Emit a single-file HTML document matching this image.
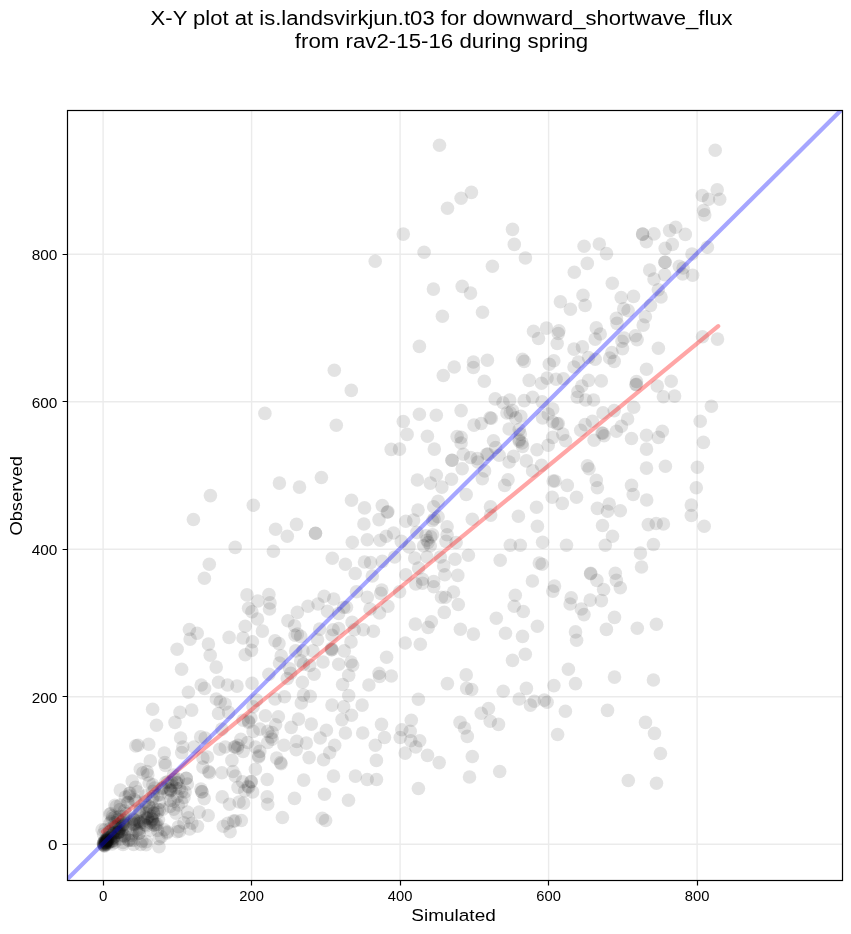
<!DOCTYPE html><html><head><meta charset="utf-8"><style>html,body{margin:0;padding:0;background:#fff;width:851px;height:934px;overflow:hidden}svg{display:block;will-change:transform}text{font-family:"Liberation Sans",sans-serif;fill:#000}</style></head><body><svg width="851" height="934" viewBox="0 0 851 934"><text x="150.6" y="24.9" font-size="19.5" textLength="582" lengthAdjust="spacingAndGlyphs">X-Y plot at is.landsvirkjun.t03 for downward_shortwave_flux</text><text x="294.8" y="47.8" font-size="19.5" textLength="293.4" lengthAdjust="spacingAndGlyphs">from rav2-15-16 during spring</text><defs><clipPath id="c"><rect x="67.50" y="110.50" width="775.00" height="770.00"/></clipPath></defs><path d="M103.10 110.50V880.50M67.50 844.30H842.50M251.60 110.50V880.50M67.50 696.80H842.50M400.10 110.50V880.50M67.50 549.30H842.50M548.60 110.50V880.50M67.50 401.80H842.50M697.10 110.50V880.50M67.50 254.30H842.50" stroke="#b0b0b0" stroke-opacity="0.26" stroke-width="1.4" fill="none"/><g clip-path="url(#c)" fill="#000" fill-opacity="0.11"><circle cx="439.5" cy="145.3" r="6.8"/><circle cx="447.5" cy="208.2" r="6.8"/><circle cx="403.3" cy="234.1" r="6.8"/><circle cx="424.1" cy="252.2" r="6.8"/><circle cx="375.2" cy="261.2" r="6.8"/><circle cx="433.4" cy="289.1" r="6.8"/><circle cx="471.4" cy="192.4" r="6.8"/><circle cx="461.1" cy="198.2" r="6.8"/><circle cx="512.5" cy="229.4" r="6.8"/><circle cx="514.3" cy="244.4" r="6.8"/><circle cx="525.4" cy="258.0" r="6.8"/><circle cx="492.4" cy="266.3" r="6.8"/><circle cx="462.2" cy="286.4" r="6.8"/><circle cx="470.5" cy="293.1" r="6.8"/><circle cx="584.1" cy="246.2" r="6.8"/><circle cx="599.3" cy="244.0" r="6.8"/><circle cx="606.5" cy="253.6" r="6.8"/><circle cx="587.3" cy="263.4" r="6.8"/><circle cx="574.3" cy="272.3" r="6.8"/><circle cx="612.3" cy="283.3" r="6.8"/><circle cx="583.0" cy="295.3" r="6.8"/><circle cx="621.2" cy="297.5" r="6.8"/><circle cx="633.5" cy="296.4" r="6.8"/><circle cx="642.6" cy="234.1" r="6.8"/><circle cx="646.4" cy="241.7" r="6.8"/><circle cx="715.2" cy="150.2" r="6.8"/><circle cx="717.2" cy="189.7" r="6.8"/><circle cx="702.2" cy="195.5" r="6.8"/><circle cx="708.5" cy="199.3" r="6.8"/><circle cx="719.7" cy="199.3" r="6.8"/><circle cx="703.6" cy="210.5" r="6.8"/><circle cx="704.7" cy="214.9" r="6.8"/><circle cx="675.7" cy="227.2" r="6.8"/><circle cx="669.6" cy="230.6" r="6.8"/><circle cx="685.3" cy="234.4" r="6.8"/><circle cx="654.0" cy="233.9" r="6.8"/><circle cx="672.3" cy="244.4" r="6.8"/><circle cx="665.2" cy="248.4" r="6.8"/><circle cx="707.4" cy="247.3" r="6.8"/><circle cx="692.0" cy="254.0" r="6.8"/><circle cx="665.0" cy="262.3" r="6.8"/><circle cx="679.3" cy="266.3" r="6.8"/><circle cx="683.1" cy="268.0" r="6.8"/><circle cx="682.7" cy="274.0" r="6.8"/><circle cx="692.6" cy="275.3" r="6.8"/><circle cx="664.7" cy="274.8" r="6.8"/><circle cx="649.7" cy="270.1" r="6.8"/><circle cx="654.0" cy="279.1" r="6.8"/><circle cx="658.3" cy="289.8" r="6.8"/><circle cx="661.0" cy="297.0" r="6.8"/><circle cx="264.9" cy="413.4" r="6.8"/><circle cx="442.4" cy="316.3" r="6.8"/><circle cx="419.4" cy="346.4" r="6.8"/><circle cx="334.3" cy="370.3" r="6.8"/><circle cx="351.3" cy="390.4" r="6.8"/><circle cx="443.3" cy="375.5" r="6.8"/><circle cx="454.2" cy="367.0" r="6.8"/><circle cx="336.3" cy="425.3" r="6.8"/><circle cx="419.4" cy="414.3" r="6.8"/><circle cx="436.3" cy="415.2" r="6.8"/><circle cx="403.3" cy="421.5" r="6.8"/><circle cx="407.1" cy="434.4" r="6.8"/><circle cx="427.4" cy="436.2" r="6.8"/><circle cx="391.2" cy="449.4" r="6.8"/><circle cx="399.5" cy="449.1" r="6.8"/><circle cx="434.3" cy="449.1" r="6.8"/><circle cx="452.0" cy="460.3" r="6.8"/><circle cx="321.4" cy="477.5" r="6.8"/><circle cx="279.4" cy="483.1" r="6.8"/><circle cx="299.5" cy="487.1" r="6.8"/><circle cx="417.4" cy="480.0" r="6.8"/><circle cx="436.3" cy="475.3" r="6.8"/><circle cx="430.3" cy="483.1" r="6.8"/><circle cx="441.9" cy="487.1" r="6.8"/><circle cx="451.5" cy="479.3" r="6.8"/><circle cx="482.5" cy="312.3" r="6.8"/><circle cx="533.5" cy="331.3" r="6.8"/><circle cx="546.5" cy="328.1" r="6.8"/><circle cx="538.5" cy="338.5" r="6.8"/><circle cx="473.4" cy="362.0" r="6.8"/><circle cx="473.4" cy="367.5" r="6.8"/><circle cx="487.4" cy="360.3" r="6.8"/><circle cx="522.5" cy="359.2" r="6.8"/><circle cx="524.2" cy="361.4" r="6.8"/><circle cx="549.3" cy="364.2" r="6.8"/><circle cx="484.3" cy="381.3" r="6.8"/><circle cx="529.2" cy="380.4" r="6.8"/><circle cx="541.5" cy="383.2" r="6.8"/><circle cx="547.1" cy="378.1" r="6.8"/><circle cx="560.4" cy="301.7" r="6.8"/><circle cx="570.4" cy="309.2" r="6.8"/><circle cx="585.1" cy="305.4" r="6.8"/><circle cx="623.7" cy="308.9" r="6.8"/><circle cx="628.1" cy="310.6" r="6.8"/><circle cx="616.4" cy="318.4" r="6.8"/><circle cx="617.0" cy="323.4" r="6.8"/><circle cx="645.4" cy="316.7" r="6.8"/><circle cx="643.2" cy="325.1" r="6.8"/><circle cx="558.9" cy="330.7" r="6.8"/><circle cx="558.3" cy="333.5" r="6.8"/><circle cx="596.3" cy="327.9" r="6.8"/><circle cx="600.2" cy="334.0" r="6.8"/><circle cx="595.2" cy="339.1" r="6.8"/><circle cx="557.2" cy="343.5" r="6.8"/><circle cx="574.0" cy="349.1" r="6.8"/><circle cx="582.4" cy="346.9" r="6.8"/><circle cx="624.2" cy="338.0" r="6.8"/><circle cx="622.0" cy="341.3" r="6.8"/><circle cx="635.4" cy="335.7" r="6.8"/><circle cx="637.1" cy="339.6" r="6.8"/><circle cx="622.5" cy="348.6" r="6.8"/><circle cx="611.9" cy="352.5" r="6.8"/><circle cx="609.7" cy="358.0" r="6.8"/><circle cx="614.2" cy="361.4" r="6.8"/><circle cx="595.2" cy="359.2" r="6.8"/><circle cx="588.5" cy="357.5" r="6.8"/><circle cx="578.4" cy="362.0" r="6.8"/><circle cx="574.0" cy="367.0" r="6.8"/><circle cx="563.4" cy="378.7" r="6.8"/><circle cx="556.1" cy="379.3" r="6.8"/><circle cx="588.5" cy="380.4" r="6.8"/><circle cx="601.3" cy="380.9" r="6.8"/><circle cx="581.8" cy="386.0" r="6.8"/><circle cx="577.9" cy="391.5" r="6.8"/><circle cx="646.5" cy="369.2" r="6.8"/><circle cx="636.5" cy="381.5" r="6.8"/><circle cx="635.9" cy="384.8" r="6.8"/><circle cx="553.8" cy="360.8" r="6.8"/><circle cx="495.2" cy="398.9" r="6.8"/><circle cx="503.0" cy="402.8" r="6.8"/><circle cx="509.7" cy="400.0" r="6.8"/><circle cx="524.2" cy="400.6" r="6.8"/><circle cx="532.6" cy="397.2" r="6.8"/><circle cx="542.1" cy="401.7" r="6.8"/><circle cx="461.1" cy="410.6" r="6.8"/><circle cx="506.9" cy="412.9" r="6.8"/><circle cx="512.5" cy="410.6" r="6.8"/><circle cx="515.8" cy="417.9" r="6.8"/><circle cx="520.8" cy="416.2" r="6.8"/><circle cx="490.1" cy="417.9" r="6.8"/><circle cx="481.2" cy="423.5" r="6.8"/><circle cx="474.0" cy="425.1" r="6.8"/><circle cx="509.1" cy="429.0" r="6.8"/><circle cx="519.2" cy="429.6" r="6.8"/><circle cx="520.3" cy="434.1" r="6.8"/><circle cx="542.6" cy="417.9" r="6.8"/><circle cx="548.2" cy="414.0" r="6.8"/><circle cx="552.7" cy="409.0" r="6.8"/><circle cx="552.7" cy="421.8" r="6.8"/><circle cx="552.7" cy="437.4" r="6.8"/><circle cx="493.5" cy="440.8" r="6.8"/><circle cx="495.7" cy="447.5" r="6.8"/><circle cx="461.1" cy="437.4" r="6.8"/><circle cx="461.1" cy="443.0" r="6.8"/><circle cx="519.2" cy="439.7" r="6.8"/><circle cx="522.0" cy="443.0" r="6.8"/><circle cx="522.5" cy="446.4" r="6.8"/><circle cx="537.0" cy="449.7" r="6.8"/><circle cx="548.2" cy="445.2" r="6.8"/><circle cx="463.3" cy="454.2" r="6.8"/><circle cx="470.6" cy="457.5" r="6.8"/><circle cx="477.3" cy="458.6" r="6.8"/><circle cx="477.9" cy="462.0" r="6.8"/><circle cx="486.8" cy="454.2" r="6.8"/><circle cx="499.1" cy="455.3" r="6.8"/><circle cx="509.1" cy="462.0" r="6.8"/><circle cx="513.6" cy="456.4" r="6.8"/><circle cx="526.4" cy="460.9" r="6.8"/><circle cx="462.2" cy="468.7" r="6.8"/><circle cx="484.6" cy="470.9" r="6.8"/><circle cx="482.3" cy="478.7" r="6.8"/><circle cx="532.6" cy="470.9" r="6.8"/><circle cx="541.5" cy="465.3" r="6.8"/><circle cx="508.0" cy="479.8" r="6.8"/><circle cx="504.7" cy="485.4" r="6.8"/><circle cx="553.2" cy="481.0" r="6.8"/><circle cx="577.3" cy="397.2" r="6.8"/><circle cx="585.7" cy="400.0" r="6.8"/><circle cx="593.5" cy="400.0" r="6.8"/><circle cx="558.3" cy="423.5" r="6.8"/><circle cx="562.8" cy="434.1" r="6.8"/><circle cx="565.6" cy="440.8" r="6.8"/><circle cx="603.0" cy="412.9" r="6.8"/><circle cx="614.2" cy="410.6" r="6.8"/><circle cx="633.7" cy="407.3" r="6.8"/><circle cx="627.6" cy="419.0" r="6.8"/><circle cx="621.4" cy="426.3" r="6.8"/><circle cx="616.4" cy="431.3" r="6.8"/><circle cx="585.1" cy="424.6" r="6.8"/><circle cx="592.4" cy="421.2" r="6.8"/><circle cx="580.7" cy="430.2" r="6.8"/><circle cx="601.9" cy="433.0" r="6.8"/><circle cx="604.1" cy="435.7" r="6.8"/><circle cx="594.1" cy="440.2" r="6.8"/><circle cx="631.5" cy="438.5" r="6.8"/><circle cx="646.5" cy="435.2" r="6.8"/><circle cx="646.5" cy="449.1" r="6.8"/><circle cx="587.4" cy="465.9" r="6.8"/><circle cx="589.0" cy="468.7" r="6.8"/><circle cx="596.3" cy="480.4" r="6.8"/><circle cx="597.4" cy="487.7" r="6.8"/><circle cx="555.0" cy="481.0" r="6.8"/><circle cx="567.3" cy="485.4" r="6.8"/><circle cx="646.5" cy="468.1" r="6.8"/><circle cx="631.5" cy="485.4" r="6.8"/><circle cx="650.5" cy="305.5" r="6.8"/><circle cx="658.4" cy="348.2" r="6.8"/><circle cx="702.5" cy="336.8" r="6.8"/><circle cx="717.5" cy="339.1" r="6.8"/><circle cx="671.2" cy="381.3" r="6.8"/><circle cx="657.3" cy="386.0" r="6.8"/><circle cx="663.4" cy="396.7" r="6.8"/><circle cx="674.6" cy="396.1" r="6.8"/><circle cx="711.4" cy="406.2" r="6.8"/><circle cx="700.2" cy="421.2" r="6.8"/><circle cx="662.3" cy="431.3" r="6.8"/><circle cx="658.4" cy="437.4" r="6.8"/><circle cx="703.4" cy="442.4" r="6.8"/><circle cx="665.4" cy="466.2" r="6.8"/><circle cx="697.4" cy="467.3" r="6.8"/><circle cx="210.4" cy="495.6" r="6.8"/><circle cx="253.3" cy="505.2" r="6.8"/><circle cx="193.4" cy="519.5" r="6.8"/><circle cx="235.2" cy="547.4" r="6.8"/><circle cx="209.3" cy="564.3" r="6.8"/><circle cx="204.4" cy="578.2" r="6.8"/><circle cx="247.0" cy="594.9" r="6.8"/><circle cx="257.9" cy="601.0" r="6.8"/><circle cx="248.6" cy="608.3" r="6.8"/><circle cx="251.9" cy="611.7" r="6.8"/><circle cx="257.5" cy="619.0" r="6.8"/><circle cx="245.2" cy="626.2" r="6.8"/><circle cx="262.4" cy="631.1" r="6.8"/><circle cx="189.4" cy="629.5" r="6.8"/><circle cx="197.2" cy="633.3" r="6.8"/><circle cx="190.1" cy="639.1" r="6.8"/><circle cx="208.4" cy="644.1" r="6.8"/><circle cx="177.1" cy="649.2" r="6.8"/><circle cx="210.2" cy="655.2" r="6.8"/><circle cx="229.1" cy="637.4" r="6.8"/><circle cx="243.0" cy="638.0" r="6.8"/><circle cx="252.4" cy="641.8" r="6.8"/><circle cx="251.5" cy="650.3" r="6.8"/><circle cx="245.2" cy="654.8" r="6.8"/><circle cx="181.6" cy="669.3" r="6.8"/><circle cx="216.2" cy="667.1" r="6.8"/><circle cx="351.5" cy="500.3" r="6.8"/><circle cx="275.6" cy="529.3" r="6.8"/><circle cx="296.5" cy="524.4" r="6.8"/><circle cx="287.3" cy="536.3" r="6.8"/><circle cx="315.5" cy="533.3" r="6.8"/><circle cx="315.5" cy="533.3" r="6.8"/><circle cx="273.4" cy="551.2" r="6.8"/><circle cx="352.3" cy="542.2" r="6.8"/><circle cx="332.3" cy="558.3" r="6.8"/><circle cx="345.4" cy="564.2" r="6.8"/><circle cx="355.2" cy="573.5" r="6.8"/><circle cx="364.5" cy="507.9" r="6.8"/><circle cx="363.9" cy="524.0" r="6.8"/><circle cx="382.3" cy="505.6" r="6.8"/><circle cx="387.9" cy="511.8" r="6.8"/><circle cx="379.0" cy="519.6" r="6.8"/><circle cx="367.3" cy="539.7" r="6.8"/><circle cx="380.1" cy="540.2" r="6.8"/><circle cx="386.2" cy="536.3" r="6.8"/><circle cx="393.5" cy="533.0" r="6.8"/><circle cx="401.3" cy="541.4" r="6.8"/><circle cx="409.1" cy="546.9" r="6.8"/><circle cx="418.0" cy="510.1" r="6.8"/><circle cx="405.8" cy="521.3" r="6.8"/><circle cx="413.6" cy="520.1" r="6.8"/><circle cx="438.1" cy="501.2" r="6.8"/><circle cx="433.7" cy="506.7" r="6.8"/><circle cx="438.1" cy="516.8" r="6.8"/><circle cx="432.6" cy="520.7" r="6.8"/><circle cx="447.1" cy="526.8" r="6.8"/><circle cx="416.9" cy="532.4" r="6.8"/><circle cx="425.9" cy="535.8" r="6.8"/><circle cx="432.6" cy="534.7" r="6.8"/><circle cx="428.1" cy="542.5" r="6.8"/><circle cx="423.6" cy="545.8" r="6.8"/><circle cx="447.1" cy="534.7" r="6.8"/><circle cx="446.0" cy="541.4" r="6.8"/><circle cx="364.5" cy="562.0" r="6.8"/><circle cx="370.6" cy="562.6" r="6.8"/><circle cx="382.3" cy="561.4" r="6.8"/><circle cx="394.6" cy="557.0" r="6.8"/><circle cx="414.7" cy="558.1" r="6.8"/><circle cx="427.0" cy="557.0" r="6.8"/><circle cx="440.4" cy="557.0" r="6.8"/><circle cx="418.6" cy="568.1" r="6.8"/><circle cx="443.7" cy="565.9" r="6.8"/><circle cx="444.8" cy="574.8" r="6.8"/><circle cx="405.8" cy="574.8" r="6.8"/><circle cx="422.5" cy="579.3" r="6.8"/><circle cx="433.7" cy="581.5" r="6.8"/><circle cx="372.3" cy="576.0" r="6.8"/><circle cx="427.0" cy="540.2" r="6.8"/><circle cx="430.3" cy="545.8" r="6.8"/><circle cx="466.2" cy="494.5" r="6.8"/><circle cx="490.5" cy="506.7" r="6.8"/><circle cx="490.7" cy="515.1" r="6.8"/><circle cx="472.3" cy="519.2" r="6.8"/><circle cx="518.4" cy="516.2" r="6.8"/><circle cx="536.5" cy="507.3" r="6.8"/><circle cx="537.4" cy="526.3" r="6.8"/><circle cx="456.1" cy="542.5" r="6.8"/><circle cx="510.3" cy="545.3" r="6.8"/><circle cx="520.3" cy="545.3" r="6.8"/><circle cx="542.6" cy="542.2" r="6.8"/><circle cx="468.4" cy="555.3" r="6.8"/><circle cx="455.0" cy="559.2" r="6.8"/><circle cx="500.2" cy="560.3" r="6.8"/><circle cx="539.3" cy="563.1" r="6.8"/><circle cx="542.1" cy="564.2" r="6.8"/><circle cx="457.8" cy="575.4" r="6.8"/><circle cx="532.4" cy="581.0" r="6.8"/><circle cx="552.2" cy="497.3" r="6.8"/><circle cx="562.3" cy="503.4" r="6.8"/><circle cx="576.5" cy="497.3" r="6.8"/><circle cx="633.2" cy="494.5" r="6.8"/><circle cx="597.4" cy="508.4" r="6.8"/><circle cx="609.2" cy="504.0" r="6.8"/><circle cx="607.5" cy="511.2" r="6.8"/><circle cx="620.3" cy="510.7" r="6.8"/><circle cx="602.5" cy="525.5" r="6.8"/><circle cx="612.5" cy="536.3" r="6.8"/><circle cx="566.5" cy="545.3" r="6.8"/><circle cx="605.3" cy="545.3" r="6.8"/><circle cx="640.4" cy="553.1" r="6.8"/><circle cx="641.5" cy="567.0" r="6.8"/><circle cx="590.7" cy="573.2" r="6.8"/><circle cx="596.9" cy="580.4" r="6.8"/><circle cx="615.3" cy="573.2" r="6.8"/><circle cx="616.4" cy="580.4" r="6.8"/><circle cx="696.3" cy="487.7" r="6.8"/><circle cx="646.7" cy="500.0" r="6.8"/><circle cx="648.3" cy="524.6" r="6.8"/><circle cx="656.2" cy="523.5" r="6.8"/><circle cx="663.4" cy="524.0" r="6.8"/><circle cx="653.4" cy="544.5" r="6.8"/><circle cx="691.3" cy="505.1" r="6.8"/><circle cx="691.3" cy="515.5" r="6.8"/><circle cx="704.2" cy="526.3" r="6.8"/><circle cx="268.9" cy="594.5" r="6.8"/><circle cx="270.0" cy="602.9" r="6.8"/><circle cx="269.5" cy="609.0" r="6.8"/><circle cx="297.4" cy="612.4" r="6.8"/><circle cx="308.0" cy="606.2" r="6.8"/><circle cx="318.0" cy="604.0" r="6.8"/><circle cx="324.2" cy="596.2" r="6.8"/><circle cx="333.7" cy="599.0" r="6.8"/><circle cx="327.5" cy="611.2" r="6.8"/><circle cx="338.7" cy="613.5" r="6.8"/><circle cx="346.5" cy="607.3" r="6.8"/><circle cx="356.5" cy="591.7" r="6.8"/><circle cx="287.9" cy="620.7" r="6.8"/><circle cx="294.6" cy="625.7" r="6.8"/><circle cx="295.1" cy="635.2" r="6.8"/><circle cx="300.7" cy="636.4" r="6.8"/><circle cx="275.0" cy="640.8" r="6.8"/><circle cx="279.0" cy="643.6" r="6.8"/><circle cx="319.7" cy="629.1" r="6.8"/><circle cx="317.5" cy="639.7" r="6.8"/><circle cx="333.1" cy="629.7" r="6.8"/><circle cx="338.7" cy="628.5" r="6.8"/><circle cx="332.0" cy="635.2" r="6.8"/><circle cx="352.1" cy="622.4" r="6.8"/><circle cx="354.3" cy="629.7" r="6.8"/><circle cx="351.0" cy="641.9" r="6.8"/><circle cx="281.2" cy="655.9" r="6.8"/><circle cx="279.5" cy="663.1" r="6.8"/><circle cx="295.7" cy="650.9" r="6.8"/><circle cx="303.0" cy="650.9" r="6.8"/><circle cx="313.0" cy="650.9" r="6.8"/><circle cx="331.4" cy="649.7" r="6.8"/><circle cx="344.3" cy="650.9" r="6.8"/><circle cx="300.7" cy="660.9" r="6.8"/><circle cx="323.0" cy="662.0" r="6.8"/><circle cx="338.7" cy="664.3" r="6.8"/><circle cx="351.0" cy="662.0" r="6.8"/><circle cx="268.9" cy="674.3" r="6.8"/><circle cx="289.6" cy="668.7" r="6.8"/><circle cx="314.1" cy="674.3" r="6.8"/><circle cx="348.7" cy="675.4" r="6.8"/><circle cx="297.4" cy="634.1" r="6.8"/><circle cx="332.0" cy="649.7" r="6.8"/><circle cx="309.7" cy="665.4" r="6.8"/><circle cx="290.7" cy="673.2" r="6.8"/><circle cx="415.8" cy="583.9" r="6.8"/><circle cx="422.5" cy="583.3" r="6.8"/><circle cx="433.7" cy="586.7" r="6.8"/><circle cx="381.8" cy="590.0" r="6.8"/><circle cx="380.7" cy="593.4" r="6.8"/><circle cx="399.6" cy="591.7" r="6.8"/><circle cx="367.3" cy="597.3" r="6.8"/><circle cx="370.0" cy="609.0" r="6.8"/><circle cx="379.5" cy="612.9" r="6.8"/><circle cx="387.9" cy="606.2" r="6.8"/><circle cx="441.5" cy="597.3" r="6.8"/><circle cx="445.4" cy="597.3" r="6.8"/><circle cx="444.3" cy="612.4" r="6.8"/><circle cx="415.3" cy="624.1" r="6.8"/><circle cx="431.4" cy="621.8" r="6.8"/><circle cx="428.1" cy="627.4" r="6.8"/><circle cx="363.3" cy="629.7" r="6.8"/><circle cx="373.4" cy="631.3" r="6.8"/><circle cx="405.2" cy="643.0" r="6.8"/><circle cx="420.3" cy="644.2" r="6.8"/><circle cx="386.6" cy="657.3" r="6.8"/><circle cx="379.0" cy="673.2" r="6.8"/><circle cx="379.5" cy="676.5" r="6.8"/><circle cx="391.3" cy="676.0" r="6.8"/><circle cx="453.5" cy="592.0" r="6.8"/><circle cx="458.3" cy="604.5" r="6.8"/><circle cx="515.3" cy="595.3" r="6.8"/><circle cx="514.2" cy="606.2" r="6.8"/><circle cx="523.3" cy="611.5" r="6.8"/><circle cx="496.3" cy="618.3" r="6.8"/><circle cx="460.4" cy="629.3" r="6.8"/><circle cx="473.4" cy="634.1" r="6.8"/><circle cx="505.5" cy="633.2" r="6.8"/><circle cx="522.5" cy="636.4" r="6.8"/><circle cx="537.4" cy="626.3" r="6.8"/><circle cx="525.3" cy="654.2" r="6.8"/><circle cx="512.5" cy="660.4" r="6.8"/><circle cx="466.2" cy="674.9" r="6.8"/><circle cx="554.5" cy="586.1" r="6.8"/><circle cx="552.8" cy="591.1" r="6.8"/><circle cx="603.6" cy="589.5" r="6.8"/><circle cx="620.3" cy="587.8" r="6.8"/><circle cx="571.2" cy="597.8" r="6.8"/><circle cx="570.1" cy="604.0" r="6.8"/><circle cx="581.3" cy="609.0" r="6.8"/><circle cx="584.0" cy="614.6" r="6.8"/><circle cx="590.2" cy="600.1" r="6.8"/><circle cx="601.4" cy="600.6" r="6.8"/><circle cx="614.5" cy="617.4" r="6.8"/><circle cx="606.4" cy="629.4" r="6.8"/><circle cx="637.3" cy="628.3" r="6.8"/><circle cx="575.5" cy="631.9" r="6.8"/><circle cx="576.6" cy="640.3" r="6.8"/><circle cx="568.4" cy="669.3" r="6.8"/><circle cx="614.5" cy="677.1" r="6.8"/><circle cx="656.4" cy="624.3" r="6.8"/><circle cx="466.7" cy="688.4" r="6.8"/><circle cx="471.7" cy="689.5" r="6.8"/><circle cx="503.2" cy="691.2" r="6.8"/><circle cx="526.4" cy="688.4" r="6.8"/><circle cx="519.2" cy="699.0" r="6.8"/><circle cx="534.3" cy="701.2" r="6.8"/><circle cx="530.4" cy="705.1" r="6.8"/><circle cx="544.3" cy="700.1" r="6.8"/><circle cx="547.1" cy="702.3" r="6.8"/><circle cx="488.5" cy="708.5" r="6.8"/><circle cx="481.2" cy="713.3" r="6.8"/><circle cx="490.2" cy="721.3" r="6.8"/><circle cx="498.5" cy="724.4" r="6.8"/><circle cx="460.0" cy="722.4" r="6.8"/><circle cx="464.5" cy="728.0" r="6.8"/><circle cx="467.3" cy="736.4" r="6.8"/><circle cx="472.3" cy="756.5" r="6.8"/><circle cx="499.7" cy="771.5" r="6.8"/><circle cx="553.9" cy="685.6" r="6.8"/><circle cx="575.5" cy="683.6" r="6.8"/><circle cx="565.4" cy="711.3" r="6.8"/><circle cx="607.5" cy="710.4" r="6.8"/><circle cx="557.6" cy="734.5" r="6.8"/><circle cx="653.4" cy="680.0" r="6.8"/><circle cx="645.5" cy="722.4" r="6.8"/><circle cx="654.5" cy="733.4" r="6.8"/><circle cx="660.4" cy="753.5" r="6.8"/><circle cx="469.5" cy="777.0" r="6.8"/><circle cx="628.3" cy="780.5" r="6.8"/><circle cx="368.9" cy="685.0" r="6.8"/><circle cx="447.4" cy="683.6" r="6.8"/><circle cx="418.4" cy="699.2" r="6.8"/><circle cx="381.5" cy="724.4" r="6.8"/><circle cx="384.5" cy="737.5" r="6.8"/><circle cx="375.3" cy="745.3" r="6.8"/><circle cx="376.4" cy="760.4" r="6.8"/><circle cx="411.3" cy="720.2" r="6.8"/><circle cx="401.8" cy="729.7" r="6.8"/><circle cx="410.2" cy="731.4" r="6.8"/><circle cx="400.2" cy="737.5" r="6.8"/><circle cx="410.8" cy="740.8" r="6.8"/><circle cx="419.7" cy="740.8" r="6.8"/><circle cx="415.8" cy="747.0" r="6.8"/><circle cx="405.2" cy="753.1" r="6.8"/><circle cx="427.5" cy="755.4" r="6.8"/><circle cx="439.2" cy="762.6" r="6.8"/><circle cx="367.2" cy="779.5" r="6.8"/><circle cx="376.5" cy="779.5" r="6.8"/><circle cx="418.4" cy="788.5" r="6.8"/><circle cx="287.3" cy="678.5" r="6.8"/><circle cx="302.4" cy="682.2" r="6.8"/><circle cx="342.6" cy="684.5" r="6.8"/><circle cx="284.5" cy="696.7" r="6.8"/><circle cx="275.0" cy="699.0" r="6.8"/><circle cx="303.5" cy="695.1" r="6.8"/><circle cx="310.2" cy="696.2" r="6.8"/><circle cx="301.3" cy="702.9" r="6.8"/><circle cx="332.0" cy="705.1" r="6.8"/><circle cx="343.7" cy="706.8" r="6.8"/><circle cx="348.7" cy="695.6" r="6.8"/><circle cx="351.5" cy="715.2" r="6.8"/><circle cx="342.0" cy="719.6" r="6.8"/><circle cx="362.1" cy="705.1" r="6.8"/><circle cx="278.4" cy="716.8" r="6.8"/><circle cx="275.6" cy="724.7" r="6.8"/><circle cx="272.2" cy="732.5" r="6.8"/><circle cx="272.2" cy="739.2" r="6.8"/><circle cx="298.5" cy="719.1" r="6.8"/><circle cx="291.2" cy="727.4" r="6.8"/><circle cx="311.3" cy="724.1" r="6.8"/><circle cx="326.4" cy="730.2" r="6.8"/><circle cx="320.2" cy="738.0" r="6.8"/><circle cx="345.4" cy="733.0" r="6.8"/><circle cx="362.7" cy="733.0" r="6.8"/><circle cx="284.0" cy="745.3" r="6.8"/><circle cx="296.8" cy="741.4" r="6.8"/><circle cx="296.2" cy="749.8" r="6.8"/><circle cx="306.3" cy="743.1" r="6.8"/><circle cx="334.7" cy="745.3" r="6.8"/><circle cx="329.7" cy="752.6" r="6.8"/><circle cx="323.6" cy="759.8" r="6.8"/><circle cx="309.1" cy="757.6" r="6.8"/><circle cx="276.7" cy="758.1" r="6.8"/><circle cx="280.6" cy="762.6" r="6.8"/><circle cx="333.5" cy="776.1" r="6.8"/><circle cx="355.4" cy="776.1" r="6.8"/><circle cx="303.7" cy="780.1" r="6.8"/><circle cx="294.5" cy="798.4" r="6.8"/><circle cx="324.5" cy="794.3" r="6.8"/><circle cx="348.5" cy="800.3" r="6.8"/><circle cx="282.4" cy="817.5" r="6.8"/><circle cx="322.3" cy="818.3" r="6.8"/><circle cx="325.6" cy="820.5" r="6.8"/><circle cx="188.4" cy="692.3" r="6.8"/><circle cx="201.2" cy="685.0" r="6.8"/><circle cx="204.6" cy="688.4" r="6.8"/><circle cx="218.5" cy="682.2" r="6.8"/><circle cx="227.5" cy="685.0" r="6.8"/><circle cx="237.0" cy="686.1" r="6.8"/><circle cx="252.0" cy="683.3" r="6.8"/><circle cx="216.3" cy="699.0" r="6.8"/><circle cx="220.2" cy="701.8" r="6.8"/><circle cx="225.2" cy="704.0" r="6.8"/><circle cx="218.5" cy="713.5" r="6.8"/><circle cx="228.6" cy="712.4" r="6.8"/><circle cx="191.7" cy="710.1" r="6.8"/><circle cx="180.0" cy="712.4" r="6.8"/><circle cx="175.0" cy="722.4" r="6.8"/><circle cx="256.5" cy="700.1" r="6.8"/><circle cx="253.1" cy="706.8" r="6.8"/><circle cx="265.4" cy="715.7" r="6.8"/><circle cx="250.9" cy="718.0" r="6.8"/><circle cx="248.7" cy="722.4" r="6.8"/><circle cx="243.1" cy="720.2" r="6.8"/><circle cx="253.1" cy="731.4" r="6.8"/><circle cx="259.8" cy="729.1" r="6.8"/><circle cx="267.7" cy="731.4" r="6.8"/><circle cx="221.9" cy="729.1" r="6.8"/><circle cx="180.6" cy="738.0" r="6.8"/><circle cx="200.7" cy="736.9" r="6.8"/><circle cx="205.1" cy="738.0" r="6.8"/><circle cx="240.9" cy="739.2" r="6.8"/><circle cx="182.8" cy="747.0" r="6.8"/><circle cx="181.7" cy="752.6" r="6.8"/><circle cx="194.0" cy="747.0" r="6.8"/><circle cx="202.9" cy="758.1" r="6.8"/><circle cx="207.4" cy="757.0" r="6.8"/><circle cx="219.7" cy="749.2" r="6.8"/><circle cx="225.2" cy="747.0" r="6.8"/><circle cx="234.2" cy="747.0" r="6.8"/><circle cx="237.5" cy="748.1" r="6.8"/><circle cx="243.1" cy="751.4" r="6.8"/><circle cx="247.6" cy="742.5" r="6.8"/><circle cx="255.4" cy="747.0" r="6.8"/><circle cx="259.8" cy="751.4" r="6.8"/><circle cx="267.7" cy="742.5" r="6.8"/><circle cx="258.7" cy="757.0" r="6.8"/><circle cx="231.9" cy="760.4" r="6.8"/><circle cx="202.9" cy="767.1" r="6.8"/><circle cx="209.6" cy="772.7" r="6.8"/><circle cx="221.9" cy="772.7" r="6.8"/><circle cx="233.0" cy="771.5" r="6.8"/><circle cx="255.4" cy="769.3" r="6.8"/><circle cx="152.6" cy="709.2" r="6.8"/><circle cx="156.5" cy="725.2" r="6.8"/><circle cx="135.8" cy="745.9" r="6.8"/><circle cx="138.0" cy="745.3" r="6.8"/><circle cx="148.7" cy="744.2" r="6.8"/><circle cx="164.3" cy="753.1" r="6.8"/><circle cx="164.8" cy="762.6" r="6.8"/><circle cx="165.4" cy="765.4" r="6.8"/><circle cx="150.3" cy="760.9" r="6.8"/><circle cx="140.3" cy="769.3" r="6.8"/><circle cx="147.0" cy="771.5" r="6.8"/><circle cx="178.4" cy="779.5" r="6.8"/><circle cx="186.2" cy="778.4" r="6.8"/><circle cx="187.4" cy="784.0" r="6.8"/><circle cx="179.5" cy="788.5" r="6.8"/><circle cx="185.1" cy="791.9" r="6.8"/><circle cx="177.2" cy="796.4" r="6.8"/><circle cx="184.0" cy="797.5" r="6.8"/><circle cx="181.7" cy="802.0" r="6.8"/><circle cx="200.9" cy="789.1" r="6.8"/><circle cx="202.0" cy="791.9" r="6.8"/><circle cx="204.2" cy="798.6" r="6.8"/><circle cx="222.2" cy="796.9" r="6.8"/><circle cx="229.5" cy="804.2" r="6.8"/><circle cx="239.1" cy="802.0" r="6.8"/><circle cx="243.6" cy="803.1" r="6.8"/><circle cx="238.0" cy="787.4" r="6.8"/><circle cx="244.7" cy="790.7" r="6.8"/><circle cx="248.1" cy="786.2" r="6.8"/><circle cx="251.4" cy="781.7" r="6.8"/><circle cx="252.6" cy="791.9" r="6.8"/><circle cx="242.5" cy="781.7" r="6.8"/><circle cx="267.2" cy="779.5" r="6.8"/><circle cx="267.2" cy="796.9" r="6.8"/><circle cx="267.7" cy="804.2" r="6.8"/><circle cx="187.4" cy="812.1" r="6.8"/><circle cx="199.2" cy="812.1" r="6.8"/><circle cx="208.2" cy="815.5" r="6.8"/><circle cx="188.5" cy="817.7" r="6.8"/><circle cx="191.9" cy="823.3" r="6.8"/><circle cx="197.5" cy="826.2" r="6.8"/><circle cx="189.6" cy="829.0" r="6.8"/><circle cx="176.1" cy="813.2" r="6.8"/><circle cx="178.4" cy="826.7" r="6.8"/><circle cx="179.5" cy="831.2" r="6.8"/><circle cx="223.3" cy="826.2" r="6.8"/><circle cx="227.8" cy="823.3" r="6.8"/><circle cx="233.5" cy="821.1" r="6.8"/><circle cx="241.3" cy="820.5" r="6.8"/><circle cx="230.1" cy="831.8" r="6.8"/><circle cx="434.1" cy="519.0" r="6.8"/><circle cx="430.8" cy="536.9" r="6.8"/><circle cx="343.7" cy="607.2" r="6.8"/><circle cx="331.4" cy="648.5" r="6.8"/><circle cx="303.5" cy="664.1" r="6.8"/><circle cx="352.6" cy="665.3" r="6.8"/><circle cx="387.2" cy="512.3" r="6.8"/><circle cx="519.2" cy="441.1" r="6.8"/><circle cx="510.2" cy="412.7" r="6.8"/><circle cx="602.9" cy="433.3" r="6.8"/><circle cx="636.4" cy="384.4" r="6.8"/><circle cx="487.9" cy="454.1" r="6.8"/><circle cx="557.1" cy="423.9" r="6.8"/><circle cx="491.3" cy="418.3" r="6.8"/><circle cx="642.6" cy="234.1" r="6.8"/><circle cx="665.0" cy="262.3" r="6.8"/><circle cx="235.3" cy="747.0" r="6.8"/><circle cx="238.0" cy="745.2" r="6.8"/><circle cx="250.9" cy="781.6" r="6.8"/><circle cx="248.7" cy="787.2" r="6.8"/><circle cx="235.3" cy="776.0" r="6.8"/><circle cx="258.7" cy="755.9" r="6.8"/><circle cx="271.0" cy="736.9" r="6.8"/><circle cx="208.5" cy="771.5" r="6.8"/><circle cx="177.2" cy="782.7" r="6.8"/><circle cx="181.7" cy="791.6" r="6.8"/><circle cx="178.3" cy="805.0" r="6.8"/><circle cx="183.9" cy="822.9" r="6.8"/><circle cx="177.2" cy="831.8" r="6.8"/><circle cx="186.2" cy="778.2" r="6.8"/><circle cx="235.3" cy="820.7" r="6.8"/><circle cx="281.1" cy="763.7" r="6.8"/><circle cx="201.8" cy="791.6" r="6.8"/><circle cx="248.7" cy="721.3" r="6.8"/><circle cx="590.6" cy="573.7" r="6.8"/><circle cx="452.0" cy="460.3" r="6.8"/><circle cx="457.1" cy="436.6" r="6.8"/><circle cx="656.5" cy="783.3" r="6.8"/><circle cx="139.2" cy="833.1" r="6.8"/><circle cx="150.5" cy="830.3" r="6.8"/><circle cx="159.0" cy="838.7" r="6.8"/><circle cx="167.4" cy="831.7" r="6.8"/><circle cx="146.3" cy="841.6" r="6.8"/><circle cx="133.6" cy="844.4" r="6.8"/><circle cx="156.2" cy="824.6" r="6.8"/><circle cx="107.2" cy="840.9" r="6.8"/><circle cx="107.6" cy="837.8" r="6.8"/><circle cx="105.3" cy="844.2" r="6.8"/><circle cx="103.2" cy="844.1" r="6.8"/><circle cx="104.8" cy="842.7" r="6.8"/><circle cx="106.7" cy="840.9" r="6.8"/><circle cx="111.6" cy="836.1" r="6.8"/><circle cx="108.2" cy="838.9" r="6.8"/><circle cx="105.7" cy="840.9" r="6.8"/><circle cx="104.6" cy="840.5" r="6.8"/><circle cx="111.5" cy="836.0" r="6.8"/><circle cx="105.0" cy="841.7" r="6.8"/><circle cx="103.7" cy="843.1" r="6.8"/><circle cx="105.9" cy="842.9" r="6.8"/><circle cx="113.9" cy="836.8" r="6.8"/><circle cx="111.9" cy="841.6" r="6.8"/><circle cx="107.3" cy="839.6" r="6.8"/><circle cx="106.2" cy="841.9" r="6.8"/><circle cx="124.6" cy="835.7" r="6.8"/><circle cx="123.0" cy="824.7" r="6.8"/><circle cx="104.2" cy="841.8" r="6.8"/><circle cx="131.1" cy="840.3" r="6.8"/><circle cx="159.4" cy="802.5" r="6.8"/><circle cx="136.3" cy="830.2" r="6.8"/><circle cx="110.7" cy="840.7" r="6.8"/><circle cx="120.5" cy="838.9" r="6.8"/><circle cx="107.6" cy="837.7" r="6.8"/><circle cx="164.4" cy="829.8" r="6.8"/><circle cx="149.1" cy="783.0" r="6.8"/><circle cx="124.4" cy="810.9" r="6.8"/><circle cx="139.6" cy="811.1" r="6.8"/><circle cx="122.3" cy="829.2" r="6.8"/><circle cx="110.3" cy="834.2" r="6.8"/><circle cx="105.3" cy="842.8" r="6.8"/><circle cx="125.3" cy="823.4" r="6.8"/><circle cx="120.0" cy="828.4" r="6.8"/><circle cx="159.0" cy="846.8" r="6.8"/><circle cx="133.6" cy="824.4" r="6.8"/><circle cx="112.8" cy="837.8" r="6.8"/><circle cx="140.7" cy="844.4" r="6.8"/><circle cx="118.1" cy="832.8" r="6.8"/><circle cx="162.8" cy="809.2" r="6.8"/><circle cx="104.1" cy="845.4" r="6.8"/><circle cx="139.0" cy="833.1" r="6.8"/><circle cx="109.0" cy="837.9" r="6.8"/><circle cx="104.1" cy="844.3" r="6.8"/><circle cx="146.6" cy="813.3" r="6.8"/><circle cx="119.1" cy="830.1" r="6.8"/><circle cx="110.5" cy="839.1" r="6.8"/><circle cx="153.6" cy="796.6" r="6.8"/><circle cx="153.8" cy="813.1" r="6.8"/><circle cx="167.0" cy="832.9" r="6.8"/><circle cx="105.8" cy="842.5" r="6.8"/><circle cx="153.9" cy="824.9" r="6.8"/><circle cx="118.5" cy="824.5" r="6.8"/><circle cx="118.2" cy="832.5" r="6.8"/><circle cx="131.7" cy="835.4" r="6.8"/><circle cx="107.3" cy="844.3" r="6.8"/><circle cx="157.3" cy="824.2" r="6.8"/><circle cx="152.2" cy="819.2" r="6.8"/><circle cx="105.8" cy="841.3" r="6.8"/><circle cx="118.7" cy="831.9" r="6.8"/><circle cx="106.3" cy="839.1" r="6.8"/><circle cx="161.4" cy="836.8" r="6.8"/><circle cx="103.9" cy="845.3" r="6.8"/><circle cx="132.9" cy="833.8" r="6.8"/><circle cx="113.5" cy="833.4" r="6.8"/><circle cx="114.7" cy="842.1" r="6.8"/><circle cx="155.6" cy="825.7" r="6.8"/><circle cx="123.0" cy="842.5" r="6.8"/><circle cx="106.7" cy="843.4" r="6.8"/><circle cx="154.7" cy="788.0" r="6.8"/><circle cx="143.4" cy="820.5" r="6.8"/><circle cx="152.1" cy="820.8" r="6.8"/><circle cx="123.0" cy="844.4" r="6.8"/><circle cx="103.4" cy="843.0" r="6.8"/><circle cx="123.4" cy="824.4" r="6.8"/><circle cx="106.5" cy="839.9" r="6.8"/><circle cx="158.5" cy="819.8" r="6.8"/><circle cx="152.8" cy="807.8" r="6.8"/><circle cx="145.0" cy="824.7" r="6.8"/><circle cx="119.0" cy="832.0" r="6.8"/><circle cx="109.9" cy="841.7" r="6.8"/><circle cx="140.3" cy="822.3" r="6.8"/><circle cx="128.8" cy="840.1" r="6.8"/><circle cx="116.6" cy="832.4" r="6.8"/><circle cx="116.1" cy="828.1" r="6.8"/><circle cx="104.5" cy="846.2" r="6.8"/><circle cx="152.9" cy="791.4" r="6.8"/><circle cx="104.7" cy="845.5" r="6.8"/><circle cx="114.3" cy="832.0" r="6.8"/><circle cx="107.2" cy="840.9" r="6.8"/><circle cx="122.0" cy="822.4" r="6.8"/><circle cx="173.7" cy="809.2" r="6.8"/><circle cx="111.6" cy="841.3" r="6.8"/><circle cx="113.5" cy="838.1" r="6.8"/><circle cx="103.8" cy="844.2" r="6.8"/><circle cx="159.2" cy="809.9" r="6.8"/><circle cx="105.6" cy="844.1" r="6.8"/><circle cx="119.9" cy="832.0" r="6.8"/><circle cx="117.5" cy="832.5" r="6.8"/><circle cx="106.1" cy="842.5" r="6.8"/><circle cx="149.4" cy="806.7" r="6.8"/><circle cx="105.6" cy="840.4" r="6.8"/><circle cx="149.7" cy="811.3" r="6.8"/><circle cx="107.6" cy="840.7" r="6.8"/><circle cx="124.5" cy="836.2" r="6.8"/><circle cx="133.5" cy="840.4" r="6.8"/><circle cx="112.9" cy="833.6" r="6.8"/><circle cx="134.2" cy="823.1" r="6.8"/><circle cx="153.6" cy="822.6" r="6.8"/><circle cx="170.2" cy="800.5" r="6.8"/><circle cx="113.1" cy="840.7" r="6.8"/><circle cx="123.3" cy="816.4" r="6.8"/><circle cx="167.6" cy="781.9" r="6.8"/><circle cx="141.9" cy="841.2" r="6.8"/><circle cx="145.6" cy="795.7" r="6.8"/><circle cx="134.5" cy="819.7" r="6.8"/><circle cx="136.2" cy="823.1" r="6.8"/><circle cx="121.5" cy="826.1" r="6.8"/><circle cx="121.5" cy="835.9" r="6.8"/><circle cx="125.6" cy="829.3" r="6.8"/><circle cx="147.8" cy="818.5" r="6.8"/><circle cx="133.3" cy="819.0" r="6.8"/><circle cx="108.5" cy="842.4" r="6.8"/><circle cx="144.9" cy="801.7" r="6.8"/><circle cx="146.1" cy="844.7" r="6.8"/><circle cx="122.5" cy="825.8" r="6.8"/><circle cx="134.6" cy="824.7" r="6.8"/><circle cx="173.8" cy="801.2" r="6.8"/><circle cx="157.6" cy="830.5" r="6.8"/><circle cx="123.5" cy="820.3" r="6.8"/><circle cx="112.1" cy="843.9" r="6.8"/><circle cx="122.0" cy="831.6" r="6.8"/><circle cx="128.4" cy="840.3" r="6.8"/><circle cx="140.4" cy="809.7" r="6.8"/><circle cx="176.4" cy="782.7" r="6.8"/><circle cx="152.2" cy="818.7" r="6.8"/><circle cx="150.0" cy="822.8" r="6.8"/><circle cx="153.4" cy="813.1" r="6.8"/><circle cx="146.6" cy="825.7" r="6.8"/><circle cx="151.6" cy="816.4" r="6.8"/><circle cx="146.6" cy="807.6" r="6.8"/><circle cx="145.3" cy="817.1" r="6.8"/><circle cx="171.7" cy="782.6" r="6.8"/><circle cx="171.9" cy="785.9" r="6.8"/><circle cx="170.1" cy="788.7" r="6.8"/><circle cx="139.2" cy="812.6" r="6.8"/><circle cx="139.3" cy="829.0" r="6.8"/><circle cx="152.3" cy="799.1" r="6.8"/><circle cx="137.5" cy="831.6" r="6.8"/><circle cx="167.9" cy="793.1" r="6.8"/><circle cx="169.9" cy="806.4" r="6.8"/><circle cx="157.5" cy="809.2" r="6.8"/><circle cx="169.2" cy="789.4" r="6.8"/><circle cx="157.6" cy="812.6" r="6.8"/><circle cx="170.6" cy="790.8" r="6.8"/><circle cx="159.8" cy="794.6" r="6.8"/><circle cx="173.4" cy="775.1" r="6.8"/><circle cx="171.0" cy="790.3" r="6.8"/><circle cx="147.5" cy="817.6" r="6.8"/><circle cx="161.9" cy="788.4" r="6.8"/><circle cx="157.5" cy="795.2" r="6.8"/><circle cx="148.5" cy="805.6" r="6.8"/><circle cx="131.2" cy="822.0" r="6.8"/><circle cx="143.9" cy="822.3" r="6.8"/><circle cx="140.1" cy="823.3" r="6.8"/><circle cx="138.5" cy="821.2" r="6.8"/><circle cx="174.4" cy="779.5" r="6.8"/><circle cx="175.7" cy="788.2" r="6.8"/><circle cx="134.2" cy="820.6" r="6.8"/><circle cx="163.1" cy="787.6" r="6.8"/><circle cx="146.3" cy="818.5" r="6.8"/><circle cx="165.6" cy="782.5" r="6.8"/><circle cx="112.6" cy="815.8" r="6.8"/><circle cx="137.7" cy="791.7" r="6.8"/><circle cx="129.3" cy="793.6" r="6.8"/><circle cx="126.2" cy="813.6" r="6.8"/><circle cx="134.1" cy="799.6" r="6.8"/><circle cx="113.7" cy="826.7" r="6.8"/><circle cx="109.9" cy="831.2" r="6.8"/><circle cx="135.7" cy="800.8" r="6.8"/><circle cx="120.3" cy="805.1" r="6.8"/><circle cx="117.5" cy="817.7" r="6.8"/><circle cx="127.6" cy="802.3" r="6.8"/><circle cx="130.1" cy="793.1" r="6.8"/><circle cx="109.7" cy="814.2" r="6.8"/><circle cx="118.2" cy="819.6" r="6.8"/><circle cx="129.1" cy="796.0" r="6.8"/><circle cx="110.8" cy="813.5" r="6.8"/><circle cx="103.5" cy="834.0" r="6.8"/><circle cx="105.0" cy="829.8" r="6.8"/><circle cx="109.9" cy="829.1" r="6.8"/><circle cx="109.9" cy="823.4" r="6.8"/><circle cx="114.9" cy="822.7" r="6.8"/><circle cx="114.9" cy="817.1" r="6.8"/><circle cx="109.9" cy="831.9" r="6.8"/><circle cx="115.6" cy="826.3" r="6.8"/><circle cx="119.9" cy="816.4" r="6.8"/><circle cx="102.1" cy="829.8" r="6.8"/><circle cx="120.3" cy="790.1" r="6.8"/><circle cx="132.2" cy="781.1" r="6.8"/><circle cx="135.5" cy="787.3" r="6.8"/><circle cx="142.9" cy="772.9" r="6.8"/><circle cx="147.8" cy="774.9" r="6.8"/><circle cx="152.8" cy="784.8" r="6.8"/><circle cx="114.9" cy="805.4" r="6.8"/><circle cx="128.1" cy="802.9" r="6.8"/><circle cx="119.9" cy="809.5" r="6.8"/><circle cx="112.5" cy="818.5" r="6.8"/><circle cx="116.2" cy="806.5" r="6.8"/><circle cx="111.0" cy="821.5" r="6.8"/><circle cx="125.3" cy="797.0" r="6.8"/></g><g clip-path="url(#c)"><line x1="103" y1="831.7" x2="718.2" y2="326.2" stroke="#ff0000" stroke-opacity="0.35" stroke-width="4.2" stroke-linecap="round"/><line x1="67.50" y1="879.00" x2="842.40" y2="108.80" stroke="#0000ff" stroke-opacity="0.35" stroke-width="4.2"/></g><rect x="67.50" y="110.50" width="775.00" height="770.00" fill="none" stroke="#000" stroke-width="1.2"/><path d="M103.50 880.50v4.9M67.50 844.50h-4.9M251.50 880.50v4.9M67.50 696.50h-4.9M400.50 880.50v4.9M67.50 549.50h-4.9M548.50 880.50v4.9M67.50 401.50h-4.9M697.50 880.50v4.9M67.50 254.50h-4.9" stroke="#000" stroke-width="1.2" fill="none"/><text x="103.10" y="901.1" font-size="13.9" text-anchor="middle" textLength="8.4" lengthAdjust="spacingAndGlyphs">0</text><text x="57.4" y="850.20" font-size="13.9" text-anchor="end" textLength="9.4" lengthAdjust="spacingAndGlyphs">0</text><text x="251.60" y="901.1" font-size="13.9" text-anchor="middle" textLength="24.6" lengthAdjust="spacingAndGlyphs">200</text><text x="57.4" y="702.70" font-size="13.9" text-anchor="end" textLength="25.6" lengthAdjust="spacingAndGlyphs">200</text><text x="400.10" y="901.1" font-size="13.9" text-anchor="middle" textLength="24.6" lengthAdjust="spacingAndGlyphs">400</text><text x="57.4" y="555.20" font-size="13.9" text-anchor="end" textLength="25.6" lengthAdjust="spacingAndGlyphs">400</text><text x="548.60" y="901.1" font-size="13.9" text-anchor="middle" textLength="24.6" lengthAdjust="spacingAndGlyphs">600</text><text x="57.4" y="407.70" font-size="13.9" text-anchor="end" textLength="25.6" lengthAdjust="spacingAndGlyphs">600</text><text x="697.10" y="901.1" font-size="13.9" text-anchor="middle" textLength="24.6" lengthAdjust="spacingAndGlyphs">800</text><text x="57.4" y="260.20" font-size="13.9" text-anchor="end" textLength="25.6" lengthAdjust="spacingAndGlyphs">800</text><text x="411.3" y="920.9" font-size="16.3" textLength="84.5" lengthAdjust="spacingAndGlyphs">Simulated</text><text transform="translate(22.1 535.6) rotate(-90)" x="0" y="0" font-size="16.3" textLength="79.5" lengthAdjust="spacingAndGlyphs">Observed</text></svg></body></html>
